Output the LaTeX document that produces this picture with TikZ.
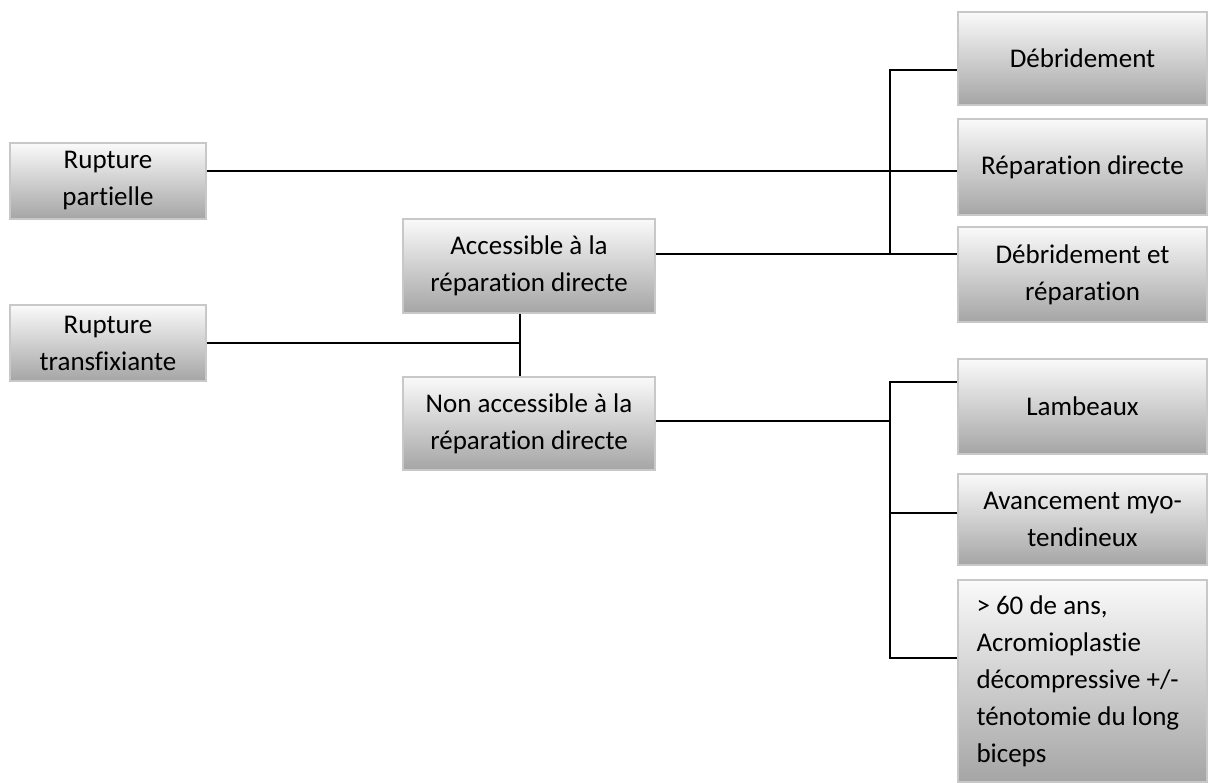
\documentclass[tikz,border=0pt]{standalone}
\usepackage{fontspec}
\setmainfont{Carlito}[Ligatures=NoCommon]
\usepackage{xcolor}
\usepackage{tikz}
\usetikzlibrary{positioning}
\definecolor{boxedge}{RGB}{200, 200, 200}
\definecolor{boxtop}{RGB}{250, 250, 250}
\definecolor{boxbottom}{RGB}{165, 165, 165}

\begin{document}
\begin{tikzpicture}[x=1pt, y=-1pt,
    box/.style={draw=boxedge, line width=2.5pt, top color=boxtop, bottom color=boxbottom,
        align=center, inner sep=0pt, font=\fontsize{27}{37}\selectfont},
    link/.style={line width=2.6pt}]
    \useasboundingbox (0,0) rectangle (1210,782);

    % Left column
    \node[box, minimum width=196, minimum height=76] (partielle) at (108,181) {Rupture\\partielle};
    \node[box, minimum width=196, minimum height=76] (transf) at (108,343) {Rupture\\transfixiante};

    % Middle column
    \node[box, minimum width=252, minimum height=94] (acc) at (529,266) {Accessible à la\\réparation directe};
    \node[box, minimum width=252, minimum height=93] (nonacc) at (529,423.5) {Non accessible à la\\réparation directe};

    % Right column
    \node[box, minimum width=249, minimum height=93] (deb) at (1082.5,58.5) {Débridement};
    \node[box, minimum width=249, minimum height=96] (repdir) at (1082.5,167) {Réparation directe};
    \node[box, minimum width=249, minimum height=95] (debrep) at (1082.5,274.5) {Débridement et\\réparation};
    \node[box, minimum width=249, minimum height=95] (lamb) at (1082.5,406.5) {Lambeaux};
    \node[box, minimum width=249, minimum height=91] (avance) at (1082.5,519.5) {Avancement myo-\\tendineux};
    \node[box, minimum width=249, minimum height=202, text width=212, align=flush left] (old) at (1082.5,681)
        {> 60 de ans,\\Acromioplastie\\décompressive +/-\\ténotomie du long\\biceps};

    % Upper fork
    \coordinate (fa) at (890,70);
    \coordinate (fb) at (890,254);
    \coordinate (fc) at (890,171);
    \draw[link] (deb.west |- fa) -- (fa) -- (fb) -- (acc.east |- fb);
    \draw[link] (fb) -- (debrep.west |- fb);
    \draw[link] (partielle.east |- fc) -- (repdir.west |- fc);

    % Transfixiante split
    \coordinate (fd) at (520,343);
    \draw[link] (transf.east |- fd) -- (fd);
    \draw[link] (fd |- acc.south) -- (fd |- nonacc.north);

    % Lower fork
    \coordinate (fe) at (890,421);
    \coordinate (ff) at (890,382);
    \coordinate (fg) at (890,513);
    \coordinate (fh) at (890,658);
    \draw[link] (nonacc.east |- fe) -- (fe);
    \draw[link] (lamb.west |- ff) -- (ff) -- (fh) -- (old.west |- fh);
    \draw[link] (fg) -- (avance.west |- fg);
\end{tikzpicture}
\end{document}
